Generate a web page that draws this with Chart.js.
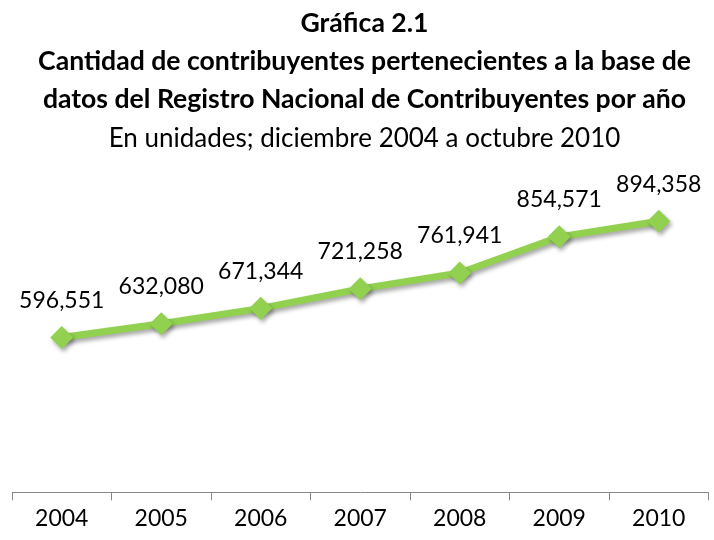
<!DOCTYPE html>
<html>
<head>
<meta charset="utf-8">
<script src="https://cdn.jsdelivr.net/npm/chart.js@4/dist/chart.umd.min.js"></script>
<style>
  html, body { margin: 0; padding: 0; background: #fff; overflow: hidden; }
  #wrap { width: 714px; height: 540px; overflow: hidden; }
</style>
</head>
<body>
<div id="wrap"><canvas id="c" width="720" height="540"></canvas></div>
<script>
const years = ['2004', '2005', '2006', '2007', '2008', '2009', '2010'];
const contribuyentes = [596551, 632080, 671344, 721258, 761941, 854571, 894358];
const titleLines = [
  'Gráfica 2.1',
  'Cantidad de contribuyentes pertenecientes a la base de',
  'datos del Registro Nacional de Contribuyentes por año'
];
const subtitleText = 'En unidades; diciembre 2004 a octubre 2010';

const FONT = 'Lato, "Open Sans", sans-serif';
const GREEN = '#92D050';

// soft drop shadow under the line and the diamonds
const shadowPlugin = {
  id: 'shadow',
  beforeDatasetsDraw(chart) {
    const ctx = chart.ctx;
    ctx.save();
    ctx.shadowColor = 'rgba(0,0,0,0.35)';
    ctx.shadowBlur = 4;
    ctx.shadowOffsetX = 2;
    ctx.shadowOffsetY = 3;
  },
  afterDatasetsDraw(chart) {
    chart.ctx.restore();
  }
};

// value labels above each point
const labelPlugin = {
  id: 'valueLabels',
  afterDatasetsDraw(chart) {
    const ctx = chart.ctx;
    const meta = chart.getDatasetMeta(0);
    ctx.save();
    ctx.font = '23px ' + FONT;
    ctx.fillStyle = '#000';
    ctx.textAlign = 'center';
    ctx.textBaseline = 'middle';
    meta.data.forEach((pt, i) => {
      const v = chart.data.datasets[0].data[i];
      ctx.fillText(v.toLocaleString('en-US'), pt.x, pt.y - 37);
    });
    ctx.restore();
  }
};

new Chart(document.getElementById('c'), {
  type: 'line',
  data: {
    labels: years,
    datasets: [{
      data: contribuyentes,
      borderColor: GREEN,
      backgroundColor: GREEN,
      borderWidth: 7,
      pointStyle: 'rectRot',
      pointRadius: 11.5,
      pointBorderWidth: 0,
      pointBackgroundColor: GREEN,
      tension: 0,
      fill: false
    }]
  },
  options: {
    responsive: false,
    animation: false,
    layout: { padding: { left: 12, right: 3, bottom: 4, top: 0 } },
    scales: {
      x: {
        offset: true,
        grid: {
          offset: true,
          drawOnChartArea: false,
          drawTicks: true,
          tickLength: 8,
          color: '#888'
        },
        border: { display: true, color: '#888', width: 1 },
        ticks: {
          color: '#000',
          padding: 4,
          font: { family: FONT, size: 23 }
        }
      },
      y: {
        display: false,
        min: 200000,
        max: 1000000
      }
    },
    plugins: {
      legend: { display: false },
      tooltip: { enabled: false },
      title: {
        display: true,
        text: titleLines,
        color: '#000',
        font: { family: FONT, size: 26.6, weight: 'bold', lineHeight: 38 / 26.6 },
        padding: { top: 4, bottom: 0 }
      },
      subtitle: {
        display: true,
        text: subtitleText,
        color: '#000',
        font: { family: FONT, size: 26, weight: 'normal', lineHeight: 40 / 26 },
        padding: { top: 1, bottom: 21 }
      }
    }
  },
  plugins: [shadowPlugin, labelPlugin]
});
</script>
</body>
</html>
